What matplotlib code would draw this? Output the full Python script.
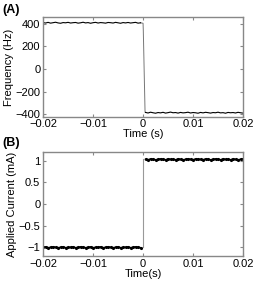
import matplotlib
matplotlib.use('Agg')
import matplotlib.pyplot as plt

plt.rcParams['font.family'] = ['Liberation Sans', 'DejaVu Sans']

# sample times (s)
t_left = [-0.0200, -0.0195, -0.0190, -0.0185, -0.0180, -0.0175, -0.0170, -0.0165, -0.0160, -0.0155,
          -0.0150, -0.0145, -0.0140, -0.0135, -0.0130, -0.0125, -0.0120, -0.0115, -0.0110, -0.0105,
          -0.0100, -0.0095, -0.0090, -0.0085, -0.0080, -0.0075, -0.0070, -0.0065, -0.0060, -0.0055,
          -0.0050, -0.0045, -0.0040, -0.0035, -0.0030, -0.0025, -0.0020, -0.0015, -0.0010, -0.0005]
t_right = [0.0005, 0.0010, 0.0015, 0.0020, 0.0025, 0.0030, 0.0035, 0.0040, 0.0045, 0.0050,
           0.0055, 0.0060, 0.0065, 0.0070, 0.0075, 0.0080, 0.0085, 0.0090, 0.0095, 0.0100,
           0.0105, 0.0110, 0.0115, 0.0120, 0.0125, 0.0130, 0.0135, 0.0140, 0.0145, 0.0150,
           0.0155, 0.0160, 0.0165, 0.0170, 0.0175, 0.0180, 0.0185, 0.0190, 0.0195, 0.0200]

# (A) frequency, Hz
freq_left = [410, 406, 412, 405, 409, 413, 407, 404, 410, 408, 412, 406, 409, 411, 405, 408, 413, 407, 410, 404,
             409, 412, 406, 410, 408, 405, 411, 409, 406, 412, 408, 404, 410, 407, 411, 406, 409, 412, 405, 408]
t_step = [-0.0005, 0.0, 0.00005, 0.0004, 0.0005]
freq_step = [408, 404, 340, -382, -383]
freq_right = [-383, -388, -381, -386, -390, -384, -387, -382, -389, -385, -380, -386, -384, -389, -383, -387,
              -385, -381, -388, -384, -386, -390, -383, -387, -382, -385, -389, -384, -386, -381, -387, -385,
              -390, -383, -386, -384, -388, -382, -386, -389]

# (B) applied current, mA
cur_left = [-1.00, -0.99, -1.01, -1.00, -0.99, -1.00, -1.01, -1.00, -0.99, -1.01, -1.00, -1.00, -0.99, -1.01,
            -1.00, -0.99, -1.00, -1.01, -1.00, -0.99, -1.01, -1.00, -1.00, -0.99, -1.01, -1.00, -0.99, -1.00,
            -1.01, -1.00, -0.99, -1.01, -1.00, -1.00, -0.99, -1.01, -1.00, -0.99, -1.00, -1.01]
t_jump = [0.0, 0.0]
cur_jump = [-1.00, 1.03]
cur_right = [1.03, 1.02, 1.04, 1.03, 1.02, 1.03, 1.04, 1.03, 1.02, 1.04, 1.03, 1.03, 1.02, 1.04, 1.03, 1.02,
             1.03, 1.04, 1.03, 1.02, 1.04, 1.03, 1.03, 1.02, 1.04, 1.03, 1.02, 1.03, 1.04, 1.03, 1.02, 1.04,
             1.03, 1.03, 1.02, 1.04, 1.03, 1.02, 1.03, 1.04]

x_ticks = [-0.02, -0.01, 0, 0.01, 0.02]
x_labels = ['\u22120.02', '\u22120.01', '0', '0.01', '0.02']
f_ticks = [-400, -200, 0, 200, 400]
f_labels = ['\u2212400', '\u2212200', '0', '200', '400']
c_ticks = [-1, -0.5, 0, 0.5, 1]
c_labels = ['\u22121', '\u22120.5', '0', '0.5', '1']

fig = plt.figure(figsize=(2.55, 2.81), dpi=100)
ax1 = fig.add_axes([0.169, 0.585, 0.784, 0.354])
ax2 = fig.add_axes([0.169, 0.089, 0.784, 0.370])

fs = 8
for ax in (ax1, ax2):
    for s in ax.spines.values():
        s.set_color('#888888')
        s.set_linewidth(1.0)
    ax.tick_params(direction='in', length=2, width=0.8, color='#888888', labelsize=fs,
                   top=True, right=True, pad=2)
    ax.set_xlim(-0.02, 0.02)
    ax.set_xticks(x_ticks)
    ax.set_xticklabels(x_labels)

ax1.plot(t_step, freq_step, color='#777777', lw=0.7)
ax1.plot(t_left, freq_left, color='black', lw=0.8)
ax1.plot(t_right, freq_right, color='black', lw=0.8)
ax1.set_ylim(-420, 458)
ax1.set_yticks(f_ticks)
ax1.set_yticklabels(f_labels)
ax1.set_ylabel('Frequency (Hz)', fontsize=fs, labelpad=1)
ax1.set_xlabel('Time (s)', fontsize=fs, labelpad=0)

ax2.plot(t_jump, cur_jump, color='#999999', lw=0.8)
ax2.plot(t_left, cur_left, color='black', lw=1.2, marker='.', ms=2.5)
ax2.plot(t_right, cur_right, color='black', lw=1.2, marker='.', ms=2.5)
ax2.set_ylim(-1.2, 1.2)
ax2.set_yticks(c_ticks)
ax2.set_yticklabels(c_labels)
ax2.set_ylabel('Applied Current (mA)', fontsize=fs, labelpad=1)
ax2.set_xlabel('Time(s)', fontsize=fs, labelpad=0)

fig.text(0.008, 0.963, '(A)', fontsize=9, fontweight='bold', va='center')
fig.text(0.008, 0.49, '(B)', fontsize=9, fontweight='bold', va='center')

fig.savefig('out.png', dpi=100)
